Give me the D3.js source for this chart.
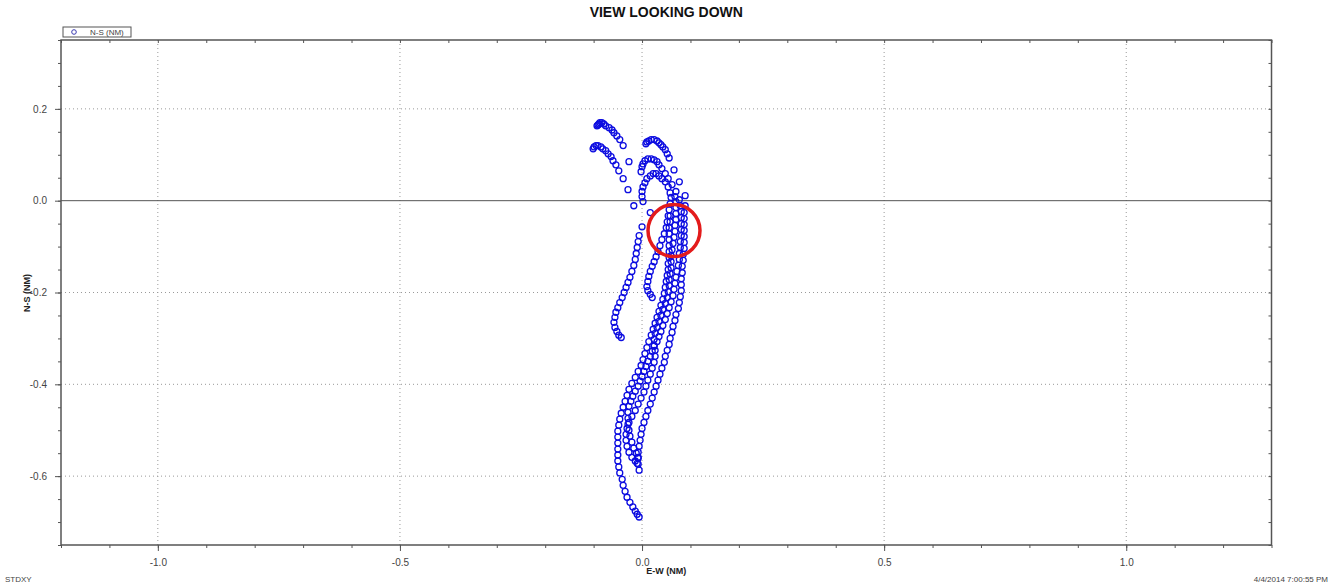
<!DOCTYPE html>
<html>
<head>
<meta charset="utf-8">
<script src="https://cdn.jsdelivr.net/npm/d3@7"></script>
<style>
  body { margin: 0; background: #fff; }
  svg { display: block; font-family: "Liberation Sans", Arial, sans-serif; }
</style>
</head>
<body>
<svg id="chart" width="1340" height="586"></svg>
<script>
// axis setup
const xMajor = [-1.0, -0.5, 0.0, 0.5, 1.0];
const yMajor = [0.2, 0.0, -0.2, -0.4, -0.6];

// tracks, [E-W, N-S] in NM
const trackA = [[-0.093,0.163],[-0.091,0.165],[-0.089,0.167],[-0.087,0.170],[-0.083,0.170],[-0.079,0.167],[-0.075,0.163],
  [-0.068,0.159],[-0.062,0.154],[-0.058,0.148],[-0.052,0.141],[-0.046,0.133],[-0.039,0.120],[-0.027,0.085]];

const trackB = [[-0.101,0.113],[-0.099,0.117],[-0.095,0.120],[-0.091,0.120],[-0.085,0.117],[-0.081,0.113],[-0.075,0.109],
  [-0.070,0.102],[-0.064,0.096],[-0.060,0.087],[-0.054,0.078],[-0.048,0.065],[-0.039,0.048],[-0.029,0.024],[-0.017,-0.011],
  [0.000,-0.057],[-0.006,-0.076],[-0.008,-0.089],[-0.010,-0.102],[-0.012,-0.115],[-0.014,-0.128],[-0.017,-0.141],
  [-0.021,-0.154],[-0.025,-0.167],[-0.029,-0.178],[-0.033,-0.189],[-0.037,-0.200],[-0.041,-0.211],[-0.046,-0.222],
  [-0.050,-0.233],[-0.054,-0.243],[-0.056,-0.254],[-0.058,-0.265],[-0.056,-0.276],[-0.052,-0.285],[-0.048,-0.293],[-0.043,-0.298]];

const trackC = [[0.008,0.124],[0.010,0.128],[0.014,0.130],[0.019,0.133],[0.025,0.133],[0.031,0.130],[0.035,0.126],
  [0.039,0.122],[0.043,0.117],[0.048,0.111],[0.052,0.102],[0.056,0.093],[0.066,0.067],[0.077,0.041],[0.089,0.011],
  [0.089,-0.011],[0.087,-0.026],[0.087,-0.039],[0.087,-0.052],[0.087,-0.065],[0.087,-0.078],[0.087,-0.091],[0.087,-0.104],
  [0.085,-0.117],[0.085,-0.130],[0.083,-0.143],[0.083,-0.157],[0.081,-0.170],[0.081,-0.183],[0.081,-0.196],[0.079,-0.209],
  [0.077,-0.222],[0.075,-0.235],[0.070,-0.248],[0.068,-0.261],[0.064,-0.274],[0.062,-0.287],[0.058,-0.300],[0.056,-0.313],
  [0.052,-0.326],[0.048,-0.339],[0.046,-0.352],[0.041,-0.365],[0.037,-0.378],[0.033,-0.391],[0.029,-0.404],[0.025,-0.417],
  [0.021,-0.430],[0.017,-0.443],[0.012,-0.457],[0.008,-0.470],[0.004,-0.483],[0.000,-0.496],[-0.002,-0.509],[-0.004,-0.522],
  [-0.006,-0.535],[-0.008,-0.548],[-0.008,-0.561],[-0.008,-0.574],[-0.006,-0.587]];

const trackD = [[-0.002,0.063],[0.000,0.074],[0.002,0.080],[0.006,0.087],[0.012,0.091],[0.019,0.091],[0.025,0.089],
  [0.031,0.085],[0.035,0.078],[0.041,0.070],[0.048,0.059],[0.054,0.048],[0.062,0.035],[0.070,0.020],[0.077,0.002],
  [0.079,-0.011],[0.081,-0.024],[0.081,-0.037],[0.081,-0.050],[0.081,-0.063],[0.081,-0.076],[0.079,-0.089],[0.079,-0.102],
  [0.077,-0.115],[0.077,-0.128],[0.075,-0.141],[0.072,-0.154],[0.070,-0.167],[0.068,-0.180],[0.066,-0.193],[0.064,-0.207],
  [0.060,-0.220],[0.056,-0.233],[0.052,-0.246],[0.048,-0.259],[0.043,-0.272],[0.039,-0.285],[0.035,-0.296],[0.031,-0.307],
  [0.025,-0.317],[0.021,-0.328],[0.017,-0.339],[0.012,-0.350],[0.008,-0.361],[0.004,-0.372],[0.000,-0.383],[-0.004,-0.393],
  [-0.008,-0.404],[-0.014,-0.415],[-0.019,-0.426],[-0.023,-0.437],[-0.027,-0.448],[-0.029,-0.461],[-0.029,-0.474],
  [-0.029,-0.487],[-0.027,-0.500],[-0.025,-0.513],[-0.021,-0.526],[-0.017,-0.539],[-0.012,-0.550],[-0.008,-0.559]];

const trackE = [[0.002,-0.002],[0.000,0.009],[0.000,0.020],[0.002,0.030],[0.006,0.039],[0.010,0.048],[0.017,0.054],
  [0.023,0.059],[0.029,0.059],[0.035,0.054],[0.041,0.048],[0.048,0.041],[0.054,0.030],[0.058,0.017],[0.060,0.007],
  [0.058,-0.007],[0.056,-0.020],[0.054,-0.033],[0.052,-0.046],[0.050,-0.059],[0.046,-0.072],[0.041,-0.085],[0.037,-0.098],
  [0.033,-0.111],[0.029,-0.122],[0.025,-0.133],[0.021,-0.143],[0.017,-0.154],[0.014,-0.165],[0.012,-0.176],[0.010,-0.187],
  [0.012,-0.196],[0.017,-0.204],[0.021,-0.211]];

const trackF = [[0.068,0.009],[0.070,-0.002],[0.070,-0.015],[0.070,-0.028],[0.070,-0.041],[0.068,-0.054],[0.068,-0.067],
  [0.066,-0.080],[0.064,-0.093],[0.062,-0.107],[0.060,-0.120],[0.060,-0.133],[0.060,-0.146],[0.058,-0.159],[0.056,-0.172],
  [0.056,-0.185],[0.054,-0.198],[0.052,-0.211],[0.048,-0.224],[0.043,-0.237],[0.039,-0.250],[0.035,-0.263],[0.031,-0.276],
  [0.027,-0.289],[0.025,-0.302],[0.025,-0.315],[0.027,-0.326],[0.027,-0.339],[0.025,-0.352],[0.021,-0.365],[0.017,-0.378],
  [0.012,-0.391],[0.008,-0.404],[0.004,-0.417],[-0.002,-0.430],[-0.008,-0.443],[-0.014,-0.457],[-0.021,-0.470],
  [-0.027,-0.483],[-0.031,-0.496],[-0.033,-0.509],[-0.033,-0.522],[-0.031,-0.535],[-0.027,-0.548],[-0.021,-0.559],
  [-0.014,-0.567],[-0.010,-0.572]];

const trackG = [[0.017,-0.026],[0.058,-0.033],[0.058,-0.046],[0.056,-0.059],[0.056,-0.072],[0.056,-0.085],[0.056,-0.098],[0.056,-0.111],
  [0.056,-0.124],[0.054,-0.137],[0.054,-0.150],[0.052,-0.163],[0.050,-0.176],[0.048,-0.189],[0.046,-0.202],[0.043,-0.215],
  [0.039,-0.228],[0.035,-0.241],[0.031,-0.254],[0.027,-0.267],[0.023,-0.280],[0.019,-0.293],[0.014,-0.307],[0.010,-0.320],
  [0.006,-0.333],[0.002,-0.346],[-0.002,-0.359],[-0.008,-0.372],[-0.014,-0.385],[-0.021,-0.398],[-0.027,-0.411],
  [-0.031,-0.424],[-0.035,-0.437],[-0.039,-0.450],[-0.043,-0.463],[-0.046,-0.476],[-0.048,-0.489],[-0.050,-0.502],
  [-0.050,-0.515],[-0.050,-0.528],[-0.050,-0.541],[-0.050,-0.554],[-0.050,-0.567],[-0.048,-0.580],[-0.046,-0.593],
  [-0.041,-0.607],[-0.039,-0.620],[-0.035,-0.633],[-0.031,-0.646],[-0.025,-0.657],[-0.019,-0.667],[-0.014,-0.676],
  [-0.010,-0.683],[-0.006,-0.689]];

// red highlight ring (centre in NM)
const highlight = [0.066, -0.065];

const svg = d3.select("#chart");
const plotLeft = 61, plotRight = 1271.5, plotTop = 40, plotBottom = 545;

const x = d3.scaleLinear().domain([-1.2, 1.3]).range([plotLeft, plotRight]);
const y = d3.scaleLinear().domain([-0.75, 0.35]).range([plotBottom, plotTop]);

const fmt = d => d.toFixed(1);

// title
svg.append("text").attr("x", (plotLeft + plotRight) / 2).attr("y", 17)
  .attr("text-anchor", "middle").attr("font-size", 14).attr("font-weight", "bold")
  .attr("fill", "#111").text("VIEW LOOKING DOWN");

// grid
const grid = svg.append("g");
grid.selectAll(".vg").data(xMajor).enter().append("line")
  .attr("x1", d => x(d)).attr("x2", d => x(d)).attr("y1", plotTop).attr("y2", plotBottom)
  .attr("stroke", "#9a9a9a").attr("stroke-dasharray", "1,3");
grid.selectAll(".hg").data(yMajor.filter(d => d !== 0)).enter().append("line")
  .attr("x1", plotLeft).attr("x2", plotRight).attr("y1", d => y(d)).attr("y2", d => y(d))
  .attr("stroke", "#9a9a9a").attr("stroke-dasharray", "1,3");
grid.append("line").attr("x1", plotLeft).attr("x2", plotRight).attr("y1", y(0)).attr("y2", y(0))
  .attr("stroke", "#555").attr("stroke-width", 1);

// points
const tracks = [trackA, trackB, trackC, trackD, trackE, trackF, trackG];
const pts = svg.append("g");
tracks.forEach(t => {
  pts.selectAll(null).data(t).enter().append("circle")
    .attr("cx", d => x(d[0])).attr("cy", d => y(d[1])).attr("r", 3)
    .attr("fill", "none").attr("stroke", "#0c0ce0").attr("stroke-width", 1.3);
});

// highlight ring
svg.append("circle").attr("cx", x(highlight[0])).attr("cy", y(highlight[1])).attr("r", 26)
  .attr("fill", "none").attr("stroke", "#e31b1b").attr("stroke-width", 3.5);

// axes
const minorX = d3.range(-12, 14).map(i => i / 10);
const minorY = d3.range(-15, 8).map(i => i / 20);

function styleAxis(g) {
  g.select(".domain").remove();
  g.selectAll(".tick line").attr("stroke", "#555");
  g.selectAll(".tick text").attr("font-size", 10).attr("fill", "#444");
}

svg.append("g").attr("transform", `translate(0,${plotBottom})`)
  .call(d3.axisBottom(x).tickValues(minorX).tickFormat("").tickSize(3)).call(styleAxis);
svg.append("g").attr("transform", `translate(0,${plotBottom})`)
  .call(d3.axisBottom(x).tickValues(xMajor).tickFormat(fmt).tickSize(6).tickPadding(8)).call(styleAxis);
svg.append("g").attr("transform", `translate(0,${plotTop})`)
  .call(d3.axisTop(x).tickValues(minorX).tickFormat("").tickSize(-3)).call(styleAxis);
svg.append("g").attr("transform", `translate(${plotLeft},0)`)
  .call(d3.axisLeft(y).tickValues(minorY).tickFormat("").tickSize(3)).call(styleAxis);
svg.append("g").attr("transform", `translate(${plotLeft},0)`)
  .call(d3.axisLeft(y).tickValues(yMajor).tickFormat(fmt).tickSize(6).tickPadding(8)).call(styleAxis);
svg.append("g").attr("transform", `translate(${plotRight},0)`)
  .call(d3.axisRight(y).tickValues(minorY).tickFormat("").tickSize(-3)).call(styleAxis);

// frame
svg.append("rect").attr("x", plotLeft).attr("y", plotTop).attr("width", plotRight - plotLeft).attr("height", plotBottom - plotTop)
  .attr("fill", "none").attr("stroke", "#555").attr("stroke-width", 1.5);

// axis titles
svg.append("text").attr("x", (plotLeft + plotRight) / 2).attr("y", 574).attr("text-anchor", "middle")
  .attr("font-size", 9).attr("font-weight", "bold").attr("fill", "#222").text("E-W (NM)");
svg.append("text").attr("transform", "translate(30,293) rotate(-90)").attr("text-anchor", "middle")
  .attr("font-size", 9).attr("font-weight", "bold").attr("fill", "#222").text("N-S (NM)");

// legend
const lg = svg.append("g");
lg.append("rect").attr("x", 63).attr("y", 27).attr("width", 68).attr("height", 10)
  .attr("fill", "#fff").attr("stroke", "#555").attr("stroke-width", 1);
lg.append("circle").attr("cx", 74).attr("cy", 32).attr("r", 2.3)
  .attr("fill", "none").attr("stroke", "#3a3ab0");
lg.append("text").attr("x", 90).attr("y", 35).attr("font-size", 8).attr("fill", "#444").text("N-S (NM)");

// footer
svg.append("text").attr("x", 5).attr("y", 582).attr("font-size", 8).attr("fill", "#444").text("STDXY");
svg.append("text").attr("x", 1328).attr("y", 582).attr("text-anchor", "end")
  .attr("font-size", 8).attr("fill", "#444").text("4/4/2014 7:00:55 PM");
</script>
</body>
</html>
